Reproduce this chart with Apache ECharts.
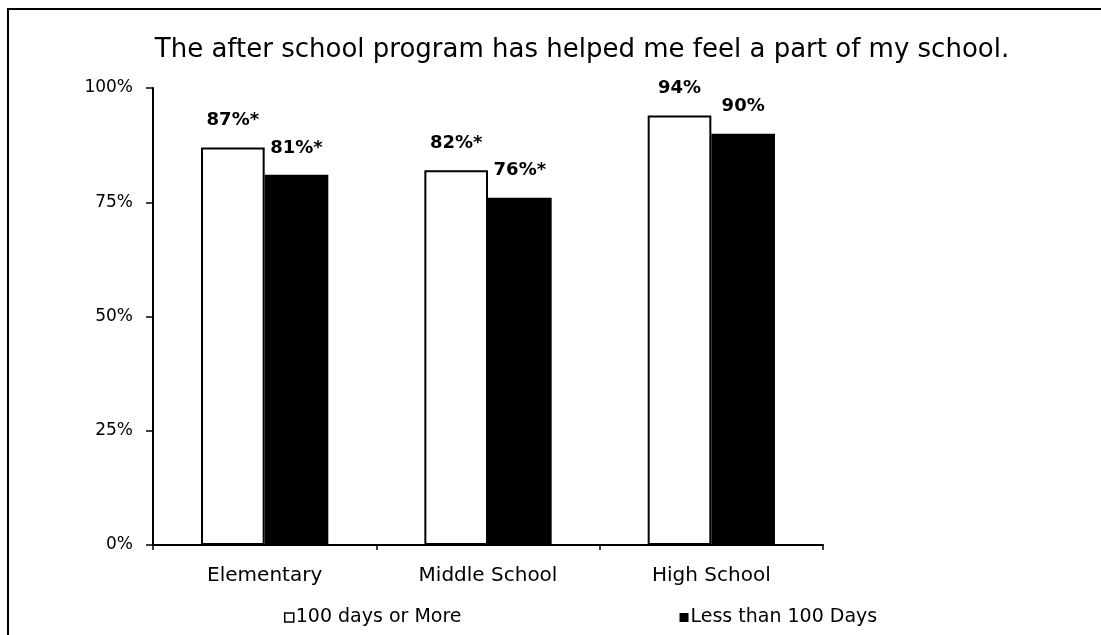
<!DOCTYPE html>
<html>
<head>
<meta charset="utf-8">
<script src="https://cdn.jsdelivr.net/npm/echarts@6/dist/echarts.min.js"></script>
<style>
  html, body { margin: 0; padding: 0; background: #fff; }
  #chart { width: 1101px; height: 635px; }
</style>
</head>
<body>
<div id="chart"></div>
<script>
// survey: "feel a part of my school", by school level
const schoolLevels = ['Elementary', 'Middle School', 'High School'];
const moreDays = [87, 82, 94];      // 100 days or More
const lessDays = [81, 76, 90];      // Less than 100 Days
const moreLabels = ['87%*', '82%*', '94%'];
const lessLabels = ['81%*', '76%*', '90%'];
const yTicks = [0, 25, 50, 75, 100];

const font = '"DejaVu Sans", sans-serif';

const chart = echarts.init(document.getElementById('chart'));

const option = {
    backgroundColor: '#fff',
    animation: false,
    textStyle: { fontFamily: font, color: '#000' },
    title: {
        text: 'The after school program has helped me feel a part of my school.',
        left: 577,
        textAlign: 'center',
        top: 32,
        textStyle: { fontFamily: font, fontSize: 26, fontWeight: 'normal', color: '#000' }
    },
    grid: { left: 153, right: 278, top: 88, bottom: 90 },
    legend: {
        left: 279,
        top: 603,
        itemGap: 218,
        itemWidth: 9,
        itemHeight: 9,
        textStyle: { fontFamily: font, fontSize: 19, color: '#000', padding: [0, 0, 0, -3] },
        data: [
            { name: '100 days or More', icon: 'rect', itemStyle: { color: '#fff', borderColor: '#000', borderWidth: 1.5 } },
            { name: 'Less than 100 Days', icon: 'rect' }
        ]
    },
    xAxis: {
        type: 'category',
        data: schoolLevels,
        axisLine: { lineStyle: { color: '#000', width: 2 } },
        axisTick: { show: true, length: 5, lineStyle: { color: '#000', width: 1.5 } },
        axisLabel: { fontFamily: font, fontSize: 20, color: '#000', margin: 21 }
    },
    yAxis: {
        type: 'value',
        min: 0,
        max: 100,
        interval: 25,
        axisLine: { show: true, lineStyle: { color: '#000', width: 2 } },
        axisTick: { show: true, length: 7, lineStyle: { color: '#000', width: 1.5 } },
        splitLine: { show: false },
        axisLabel: {
            fontFamily: font, fontSize: 17, color: '#000', margin: 20,
            formatter: v => yTicks.includes(v) ? v + '%' : ''
        }
    },
    series: [
        {
            name: '100 days or More',
            type: 'bar',
            data: moreDays,
            barGap: 0,
            barCategoryGap: '43%',
            itemStyle: { color: '#fff', borderColor: '#000', borderWidth: 2 },
            label: {
                show: true, position: 'top', distance: 18,
                fontFamily: font, fontSize: 18, fontWeight: 'bold', color: '#000',
                formatter: p => moreLabels[p.dataIndex]
            }
        },
        {
            name: 'Less than 100 Days',
            type: 'bar',
            data: lessDays,
            itemStyle: { color: '#000' },
            label: {
                show: true, position: 'top', distance: 18,
                fontFamily: font, fontSize: 18, fontWeight: 'bold', color: '#000',
                formatter: p => lessLabels[p.dataIndex]
            }
        }
    ],
    graphic: [
        {
            type: 'polyline',
            shape: { points: [[8, 635], [8, 9], [1101, 9]] },
            style: { stroke: '#000', lineWidth: 2, fill: null }
        }
    ]
};

chart.setOption(option);
</script>
</body>
</html>
